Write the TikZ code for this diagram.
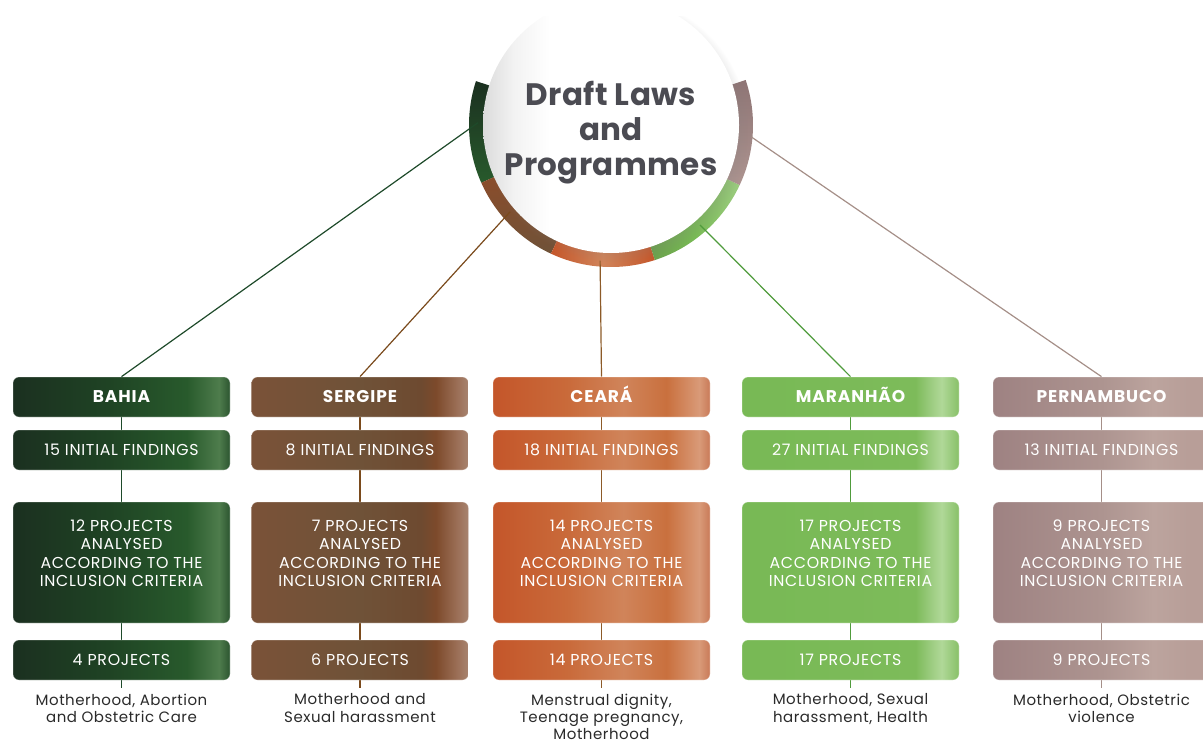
\documentclass[tikz,border=0pt]{standalone}
\usepackage{fontspec}
\setmainfont{Poppins}
\newfontfamily\cardfont[LetterSpace=4.5]{Poppins}
\newfontfamily\headfont[LetterSpace=5.5]{Poppins}
\newfontfamily\notefont[LetterSpace=3.5]{Poppins}
\newfontfamily\titlefont[LetterSpace=1.2]{Poppins}
\usetikzlibrary{shadows,calc,backgrounds}

\pgfdeclarelayer{hub}
\pgfsetlayers{hub,background,main}

% palette
\definecolor{titlegray}{HTML}{4B4B52}
\definecolor{notegray}{HTML}{2A2A2A}
\definecolor{bahLine}{HTML}{1E4A2A}
\definecolor{serLine}{HTML}{7A4A1C}
\definecolor{ceaLine}{HTML}{8C5A28}
\definecolor{marLine}{HTML}{4F9B3C}
\definecolor{perLine}{HTML}{A58F88}

\definecolor{bahA}{HTML}{1B3020}
\definecolor{bahB}{HTML}{1F4324}
\definecolor{bahC}{HTML}{285A2C}
\definecolor{bahD}{HTML}{4E7C4C}
\definecolor{bahE}{HTML}{2C5530}

\definecolor{serA}{HTML}{7A5238}
\definecolor{serB}{HTML}{6F5238}
\definecolor{serC}{HTML}{6E4A30}
\definecolor{serD}{HTML}{7D4A2B}
\definecolor{serE}{HTML}{9C7058}
\definecolor{serF}{HTML}{A88470}

\definecolor{ceaA}{HTML}{C4562A}
\definecolor{ceaB}{HTML}{C96A3A}
\definecolor{ceaC}{HTML}{D0845A}
\definecolor{ceaD}{HTML}{C9703E}
\definecolor{ceaE}{HTML}{D99A78}
\definecolor{ceaF}{HTML}{C97A58}

\definecolor{marA}{HTML}{78B955}
\definecolor{marB}{HTML}{7DBB5A}
\definecolor{marC}{HTML}{9CCC80}
\definecolor{marD}{HTML}{B0D898}
\definecolor{marE}{HTML}{88C068}

\definecolor{perA}{HTML}{9E8282}
\definecolor{perB}{HTML}{AD9490}
\definecolor{perC}{HTML}{BCA49E}
\definecolor{perD}{HTML}{B89E98}

% card fills, left to right (25bp = left edge, 75bp = right edge)
\pgfdeclarehorizontalshading{bahiafill}{100bp}{color(0bp)=(bahA); color(25bp)=(bahA); color(47bp)=(bahB); color(65bp)=(bahC); color(72.5bp)=(bahD); color(75bp)=(bahE); color(100bp)=(bahE)}
\pgfdeclarehorizontalshading{sergipefill}{100bp}{color(0bp)=(serA); color(25bp)=(serA); color(50bp)=(serB); color(64bp)=(serC); color(67.5bp)=(serD); color(72.5bp)=(serE); color(75bp)=(serF); color(100bp)=(serF)}
\pgfdeclarehorizontalshading{cearafill}{100bp}{color(0bp)=(ceaA); color(25bp)=(ceaA); color(42bp)=(ceaB); color(55bp)=(ceaC); color(65bp)=(ceaD); color(72.5bp)=(ceaE); color(75bp)=(ceaF); color(100bp)=(ceaF)}
\pgfdeclarehorizontalshading{maranhaofill}{100bp}{color(0bp)=(marA); color(25bp)=(marA); color(65bp)=(marB); color(68.5bp)=(marC); color(71bp)=(marD); color(75bp)=(marE); color(100bp)=(marE)}
\pgfdeclarehorizontalshading{pernambucofill}{100bp}{color(0bp)=(perA); color(25bp)=(perA); color(50bp)=(perB); color(62bp)=(perC); color(70bp)=(perD); color(100bp)=(perD)}
% hub disc: soft grey at the left rim
\pgfdeclarehorizontalshading{discfill}{100bp}{color(0bp)=(black!14); color(25bp)=(black!14); color(31bp)=(black!5); color(38bp)=(white); color(100bp)=(white)}

% one state column: id, x, name, fill, line colour, findings, analysed, final, themes
\newcommand\statecolumn[9]{%
  \node[headcard, shading=#4] (#1h) at (#2,397) {#3};
  \node[smallcard, shading=#4] (#1f) at (#2,450) {#6};
  \node[tallcard, shading=#4] (#1a) at (#2,562.5)
    {#7 PROJECTS\\ANALYSED\\ACCORDING TO THE\\INCLUSION CRITERIA\\\mbox{}};
  \node[smallcard, shading=#4] (#1p) at (#2,660) {#8};
  \coordinate (#1e) at (#2,688);
  \node[note] (#1n) at (#2,693.5) {#9};
  \begin{pgfonlayer}{background}
    \draw[link, #5] (#1h.center) -- (#1e);
    \draw[link, #5] (#1r) -- (#1h.north);
  \end{pgfonlayer}
}

% annular piece of the hub ring
\newcommand\ringpiece[3]{%
  \path[#3] ($(hubc)+(#1:142)$) arc[start angle=#1, end angle=#2, radius=142]
    -- ($(hubc)+(#2:124)$) arc[start angle=#2, end angle=#1, radius=124] -- cycle;
}

\begin{document}
\begin{tikzpicture}[x=1pt, y=-1pt,
  card/.style={rounded corners=6pt, minimum width=217pt, inner sep=0pt,
    text=white, align=center, draw=white, draw opacity=0.35, line width=0.7pt,
    font=\cardfont\fontsize{15.8}{18.4}\selectfont},
  headcard/.style={card, minimum height=40pt, text height=11.8pt, text depth=0pt,
    font=\headfont\fontsize{17}{19}\selectfont\bfseries},
  smallcard/.style={card, minimum height=40pt, text height=11pt, text depth=0pt},
  tallcard/.style={card, minimum height=121pt},
  note/.style={anchor=north, inner sep=0pt, align=center, text=notegray,
    font=\notefont\fontsize{15}{17.2}\selectfont},
  link/.style={line width=1.2pt},
  hubtitle/.style={align=center, text=titlegray, inner sep=0pt,
    font=\titlefont\fontsize{31}{35}\selectfont\bfseries}]
\useasboundingbox (0,0) rectangle (1203,744);
\clip (0,0) rectangle (1203,744);

\coordinate (hubc) at (611,125);
% where each state's link meets the ring
\coordinate (bahiar) at ($(hubc)+(181:133)$);
\coordinate (sergiper) at ($(hubc)+(139.3:133)$);
\coordinate (cearar) at ($(hubc)+(94.6:136)$);
\coordinate (maranhaor) at ($(hubc)+(48.3:134)$);
\coordinate (pernambucor) at ($(hubc)+(4.9:141)$);

% hub: coloured ring, white disc with shadow, title
\begin{pgfonlayer}{hub}
  \begin{scope}
    \clip (0,16) rectangle (1203,744);
    \ringpiece{156}{198}{top color=bahA, bottom color=bahC}
    \ringpiece{115}{156}{top color=serD!80!ceaA, bottom color=serB}
    \ringpiece{72}{115}{left color=ceaA, right color=ceaA, middle color=ceaC}
    \ringpiece{25}{72}{left color=marB!85!black, right color=marC, middle color=marA}
    \ringpiece{-18.5}{25}{top color=perA!90!black, bottom color=perB}
    \path[shading=discfill, circular drop shadow={shadow xshift=4pt, shadow yshift=-4pt,
      shadow scale=1.04, opacity=0.30}] (hubc) circle[radius=128];
  \end{scope}
\end{pgfonlayer}
\node[hubtitle] (title) at (611,133) {Draft Laws\\and\\Programmes};

% state columns
\statecolumn{bahia}{121.5}{BAHIA}{bahiafill}{bahLine}{15 INITIAL FINDINGS}{12}{4 PROJECTS}{Motherhood, Abortion\\and Obstetric Care}
\statecolumn{sergipe}{360}{SERGIPE}{sergipefill}{serLine}{8 INITIAL FINDINGS}{7}{6 PROJECTS}{Motherhood and\\Sexual harassment}
\statecolumn{ceara}{601.5}{CEARÁ}{cearafill}{ceaLine}{18 INITIAL FINDINGS}{14}{14 PROJECTS}{Menstrual dignity,\\Teenage pregnancy,\\Motherhood}
\statecolumn{maranhao}{850.5}{MARANHÃO}{maranhaofill}{marLine}{27 INITIAL FINDINGS}{17}{17 PROJECTS}{Motherhood, Sexual\\harassment, Health}
\statecolumn{pernambuco}{1101.5}{PERNAMBUCO}{pernambucofill}{perLine}{13 INITIAL FINDINGS}{9}{9 PROJECTS}{Motherhood, Obstetric\\violence}
\end{tikzpicture}
\end{document}
